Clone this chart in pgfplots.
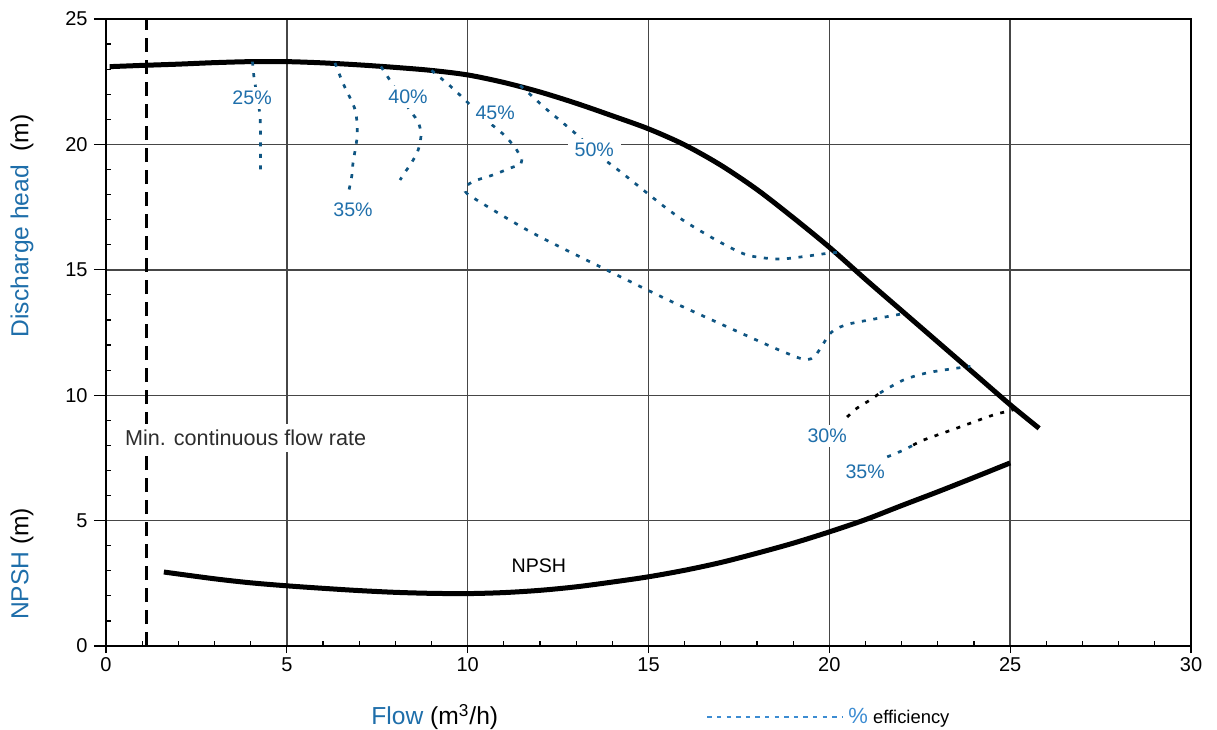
\documentclass[border=0pt]{standalone}
\usepackage{pgfplots}
\pgfplotsset{compat=1.18}
\usepackage{fontspec}
\setmainfont{Liberation Sans}
\definecolor{effline}{RGB}{15,85,130}
\definecolor{efflab}{RGB}{31,111,171}
\definecolor{axblue}{RGB}{30,110,170}
\definecolor{legblue}{RGB}{60,140,210}
\definecolor{gridgray}{RGB}{70,70,70}
\definecolor{txtgray}{RGB}{45,45,45}

\begin{document}
\begin{tikzpicture}[
  eff/.style={effline, line width=1.35pt, dash pattern=on 2pt off 3.8pt},
  effk/.style={black, line width=1.35pt, dash pattern=on 2pt off 3.8pt},
  lab/.style={fill=white, text=efflab, inner sep=2pt, font=\fontsize{9.8}{11}\selectfont}]
\begin{axis}[
  name=ax,
  scale only axis, width=542.5pt, height=313.5pt,
  xmin=0, xmax=30, ymin=0, ymax=25,
  xtick={0,5,...,30}, ytick={0,5,...,25},
  minor x tick num=4, minor y tick num=4,
  tick pos=left, tick align=inside,
  major tick length=0pt, minor tick length=2.5pt,
  grid=major, major grid style={gridgray, line width=0.7pt},
  axis line style={black, line width=1.1pt},
  tick style={black, line width=0.6pt},
  extra x ticks={0,5,...,30}, extra x tick labels={},
  extra x tick style={grid=none, tick align=outside, major tick length=3.5pt},
  extra y ticks={0,5,...,25}, extra y tick labels={},
  extra y tick style={grid=none, tick align=outside, major tick length=6pt},
  ticklabel style={font=\fontsize{10}{12}\selectfont, text=black},
  /pgf/number format/assume math mode=true,
  xticklabel style={yshift=-2.2pt}, yticklabel style={xshift=-5.7pt},
  clip=false,
  legend style={at={(0.553,-0.1132)}, anchor=west, draw=none, fill=none, inner sep=0pt,
    font=\fontsize{9.2}{11}\selectfont},
]
\addlegendimage{legend image code/.code={\draw[legblue, line width=1pt, dash pattern=on 2.2pt off 2.6pt] (0pt,0pt) -- (68pt,0pt);}}
\addlegendentry{{\color{legblue}\fontsize{11}{12}\selectfont\%}\ efficiency}
% head curve
\addplot[black, line width=2.5pt, smooth] coordinates {
(0.1,23.1) (1,23.15) (2,23.2) (3,23.26) (4,23.3) (5,23.3) (6,23.25) (7,23.17) (8,23.07) (9,22.95) (10,22.77)
(11,22.47) (12,22.09) (13,21.64) (14,21.14) (15,20.62) (16,19.98) (17,19.17) (18,18.2) (19,17.08) (20,15.9)
(21,14.62) (22,13.37) (23,12.12) (24,10.87) (25,9.62) (25.8,8.68)};
% NPSH curve
\addplot[black, line width=2.5pt, smooth] coordinates {
(1.6,2.95) (3,2.68) (4,2.52) (5,2.4) (6,2.3) (7,2.21) (8,2.14) (9,2.1) (10,2.09) (11,2.13) (12,2.22) (13,2.36) (14,2.55)
(15,2.76) (16,3.02) (17,3.33) (18,3.7) (19,4.1) (20,4.55) (21,5.04) (22,5.6) (23,6.15) (24,6.72) (25,7.3)};
% min flow line
\addplot[black, line width=1.6pt, dash pattern=on 7pt off 4pt] coordinates {(1.13,0) (1.13,25)};
% efficiency curves
\addplot[eff, smooth] coordinates {(4.05,23.3) (4.09,22.7) (4.18,21.9) (4.26,21.1) (4.27,20.0) (4.27,19.0)};
\addplot[eff, smooth] coordinates {(6.33,23.25) (6.55,22.45) (6.75,21.85) (6.89,21.37) (6.94,20.85) (6.94,20.25) (6.83,19.26) (6.8,18.78) (6.72,18.18)};
\addplot[eff, smooth] coordinates {(7.6,23.1) (7.72,22.85) (8.1,22.0) (8.46,21.25) (8.63,20.9) (8.71,20.45) (8.68,20.05) (8.6,19.66) (8.41,19.18) (8.27,18.9) (8.13,18.58)};
\addplot[eff, smooth] coordinates {(9.0,22.95) (9.5,22.35) (9.93,21.77) (10.4,21.1) (10.95,20.45) (11.3,19.9) (11.5,19.4)};
\addplot[eff, smooth] coordinates {(11.5,19.4) (11.45,19.18) (11.26,19.1) (10.7,18.78) (10.26,18.58) (10.0,18.38) (9.98,18.1)};
\addplot[eff, smooth] coordinates {(9.98,18.1) (10.11,17.91) (11.73,16.52) (13.75,15.06) (15.51,13.82) (17.26,12.67) (18.5,11.87) (19.19,11.47) (19.4,11.42) (19.6,11.55) (19.83,12.05) (20.05,12.5) (20.3,12.72) (20.6,12.86) (21.4,13.08) (22.15,13.28)};
\addplot[eff, smooth] coordinates {(11.45,22.35) (11.8,21.9) (12.14,21.45) (12.6,20.9) (13.03,20.37) (13.6,19.6) (14.27,18.86) (14.96,18.06) (15.5,17.45) (16.07,16.87) (16.98,16.1) (17.73,15.59) (18.56,15.43) (19.19,15.51) (20.02,15.67) (20.35,15.7)};
\addplot[effk, smooth] coordinates {(20.49,9.13) (20.77,9.49) (21.13,9.81) (21.4,10.09)};
\addplot[eff, smooth] coordinates {(21.4,10.09) (22.04,10.6) (22.7,10.89) (23.53,11.08) (23.9,11.15)};
\addplot[eff, smooth] coordinates {(21.6,7.54) (22.0,7.78) (22.32,8.01)};
\addplot[effk, smooth] coordinates {(22.32,8.01) (22.6,8.21) (23.53,8.69) (24.53,9.21) (24.95,9.36) (25.15,9.45)};
% labels
\node[lab] at (axis cs:4.04,21.85) {25\%};
\node[lab] at (axis cs:6.83,17.38) {35\%};
\node[lab] at (axis cs:8.35,21.9) {40\%};
\node[lab] at (axis cs:10.76,21.25) {45\%};
\node[lab, inner xsep=3.5pt] at (axis cs:13.5,19.78) {50\%};
\node[lab] at (axis cs:19.94,8.37) {30\%};
\node[lab] at (axis cs:20.99,6.94) {35\%};
\node[text=black, font=\fontsize{9.8}{11}\selectfont] at (axis cs:11.97,3.2) {NPSH};
\node[fill=white, text=txtgray, inner sep=3pt, font=\fontsize{10.8}{12}\selectfont] at (axis cs:3.86,8.29) {Min. continuous flow rate};
% axis labels
\node[rotate=90, font=\fontsize{12.3}{14}\selectfont] at (rel axis cs:-0.0774,0.67) {{\color{axblue}Discharge head}\ \ (m)};
\node[rotate=90, font=\fontsize{12.3}{14}\selectfont] at (rel axis cs:-0.0774,0.131) {{\color{axblue}NPSH}\ (m)};
\node[font=\fontsize{12.3}{14}\selectfont] at (rel axis cs:0.303,-0.1132) {{\color{axblue}Flow}\ (m\textsuperscript{3}/h)};
\coordinate (O) at (rel axis cs:0,0);
\coordinate (T) at (rel axis cs:1,1);
\end{axis}
\pgfresetboundingbox
\path ([xshift=-53pt,yshift=-41.5pt]O) rectangle ([xshift=13pt,yshift=9.5pt]T);
\end{tikzpicture}
\end{document}
